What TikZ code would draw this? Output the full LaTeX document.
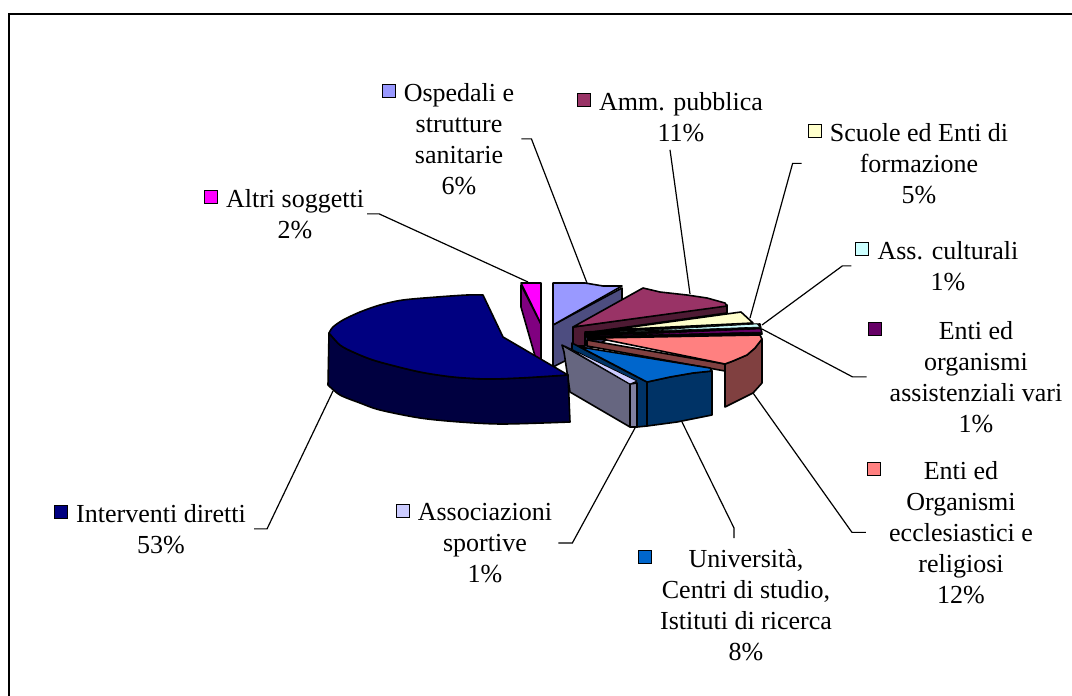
\documentclass[tikz,border=0pt]{standalone}
\usepackage{fontspec}
\setmainfont{Liberation Serif}
\usetikzlibrary{calc}
\definecolor{intcol}{HTML}{000080}
\definecolor{intside}{HTML}{000040}
\definecolor{altcol}{HTML}{FF00FF}
\definecolor{altside}{HTML}{800080}
\definecolor{ospcol}{HTML}{9999FF}
\definecolor{ospside}{HTML}{4D4D80}
\definecolor{ammcol}{HTML}{993366}
\definecolor{ammside}{HTML}{4D1A33}
\definecolor{scucol}{HTML}{FFFFCC}
\definecolor{culcol}{HTML}{CCFFFF}
\definecolor{enacol}{HTML}{660066}
\definecolor{enecol}{HTML}{FF8080}
\definecolor{eneside}{HTML}{804040}
\definecolor{unicol}{HTML}{0066CC}
\definecolor{uniside}{HTML}{003366}
\definecolor{aspcol}{HTML}{CCCCFF}
\definecolor{aspside}{HTML}{666680}
\definecolor{aspedge}{HTML}{8080A0}
\begin{document}
\begin{tikzpicture}[x=1pt, y=-1pt,
        face/.style={draw=black, line width=1.6pt, line join=round},
        lbl/.style={align=center, inner sep=0pt, anchor=north, font=\fontsize{26}{31}\selectfont},
        keybox/.style={draw=black, line width=1pt, minimum size=13pt, inner sep=0pt, anchor=east},
        leader/.style={draw=black, line width=1.2pt}]
        \useasboundingbox (0,0) rectangle (1072,696);
        \draw[line width=2pt] (9,696) -- (9,14) -- (1072,14);

        % slices, back to front
        \filldraw[face, fill=ospside] (553,325) -- (622,288) -- (622,332) -- (553,367) -- cycle;
        \filldraw[face, fill=ospcol] (553,283) -- (585,283) -- (603,286) -- (622,286) -- (553,325) -- cycle;
        \filldraw[face, fill=ammside] (573,327) -- (727,305) -- (727,313) -- (585,333) -- (585,346) -- (573,346) -- cycle;
        \filldraw[face, fill=ammcol] (573,327) -- (643,288) -- (660,292) -- (687,295) -- (707,298) -- (725,303) -- (727,306) -- cycle;
        \filldraw[face, fill=black] (585,332) -- (760,324) -- (762,334) -- (588,340) -- cycle;
        \filldraw[face, fill=scucol] (610,330) -- (741,312) -- (753,323) -- cycle;
        \filldraw[face, line width=0.6pt, fill=culcol] (620,332) -- (757,324) -- (760,327) -- cycle;
        \filldraw[face, line width=0.6pt, fill=enacol] (600,336) -- (760,329) -- (762,332) -- cycle;
        \filldraw[face, fill=eneside] (587,340) -- (725,364) -- (725,371) -- (587,346) -- cycle;
        \filldraw[face, fill=eneside] (725,364) -- (733,361) -- (747,355) -- (755,348) -- (762,339) -- (762,383) -- (753,393) -- (743,398) -- (725,407) -- cycle;
        \filldraw[face, fill=enecol] (597,338) -- (760,335) -- (762,339) -- (755,348) -- (747,355) -- (733,361) -- (725,364) -- cycle;
        \filldraw[face, fill=uniside] (572,343) -- (647,382) -- (647,426) -- (637,427) -- (637,384) -- (572,350) -- cycle;
        \filldraw[face, fill=uniside] (647,382) -- (670,377) -- (693,373) -- (712,371) -- (712,415) -- (677,422) -- (647,426) -- cycle;
        \filldraw[face, fill=unicol] (580,347) -- (710,368) -- (712,371) -- (693,373) -- (670,377) -- (647,382) -- cycle;
        \filldraw[face, fill=aspside] (562,345) -- (630,384) -- (630,427) -- (570,392) -- (564,352) -- cycle;
        \filldraw[face, fill=aspedge] (630,384) -- (637,383) -- (637,427) -- (630,427) -- cycle;
        \filldraw[face, line width=0.8pt, fill=aspcol] (565,346) -- (637,381) -- (630,384) -- cycle;
        \filldraw[face, fill=altside] (521,285) -- (541,324) -- (541,362) -- (535,356) -- (521,307) -- cycle;
        \filldraw[face, fill=altcol] (521,283) -- (541,283) -- (541,324) -- cycle;
        \filldraw[face, fill=intside] (329,333) -- plot[smooth] coordinates {(329,333) (340,345) (353,352) (370,359) (387,364) (420,372) (453,377) (487,379) (520,378) (553,376) (568,375)}
                -- (570,422) -- plot[smooth] coordinates {(570,422) (503,424) (460,422) (420,418) (380,410) (360,403) (340,395) (328,385)} -- cycle;
        \filldraw[face, fill=intcol] (568,375) -- (503,337) -- (483,295) -- plot[smooth] coordinates {(483,295) (467,295) (437,297) (403,300) (380,305) (360,312) (343,320) (333,327) (329,333)}
                -- plot[smooth] coordinates {(329,333) (340,345) (353,352) (370,359) (387,364) (420,372) (453,377) (487,379) (520,378) (553,376) (568,375)} -- cycle;

        % leader ends on the slices
        \coordinate (altt) at (528,282);
        \coordinate (ospt) at (587,283);
        \coordinate (ammt) at (690,294);
        \coordinate (scut) at (750,318);
        \coordinate (cult) at (762,325);
        \coordinate (enat) at (762,329);
        \coordinate (enet) at (753,393);
        \coordinate (unit) at (682,422);
        \coordinate (aspt) at (635,428);
        \coordinate (intt) at (333,391);

        % labels
        \node[lbl] (altl) at (295,189) {Altri soggetti\\2\%};
        \node[lbl] (ospl) at (459,83) {Ospedali e\\strutture\\sanitarie\\6\%};
        \node[lbl] (amml) at (681,92) {Amm. pubblica\\11\%};
        \node[lbl] (scul) at (919,123) {Scuole ed Enti di\\formazione\\5\%};
        \node[lbl] (cull) at (948,241) {Ass. culturali\\1\%};
        \node[lbl] (enal) at (976,321) {Enti ed\\organismi\\assistenziali vari\\1\%};
        \node[lbl] (enel) at (961,461) {Enti ed\\Organismi\\ecclesiastici e\\religiosi\\12\%};
        \node[lbl] (unil) at (746,549) {Università,\\Centri di studio,\\Istituti di ricerca\\8\%};
        \node[lbl] (aspl) at (485,503) {Associazioni\\sportive\\1\%};
        \node[lbl] (intl) at (161,504) {Interventi diretti\\53\%};

        \node[keybox, fill=altcol] (altk) at ([xshift=-8pt,yshift=-7.5pt]altl.north west) {};
        \node[keybox, fill=ospcol] (ospk) at ([xshift=-8pt,yshift=-7.5pt]ospl.north west) {};
        \node[keybox, fill=ammcol] (ammk) at ([xshift=-8pt,yshift=-7.5pt]amml.north west) {};
        \node[keybox, fill=scucol] (scuk) at ([xshift=-8pt,yshift=-7.5pt]scul.north west) {};
        \node[keybox, fill=culcol] (culk) at ([xshift=-8pt,yshift=-7.5pt]cull.north west) {};
        \node[keybox, fill=enacol] (enak) at ([xshift=-8pt,yshift=-7.5pt]enal.north west) {};
        \node[keybox, fill=enecol] (enek) at ([xshift=-8pt,yshift=-7.5pt]enel.north west) {};
        \node[keybox, fill=unicol] (unik) at ([xshift=-8pt,yshift=-7.5pt]unil.north west) {};
        \node[keybox, fill=aspcol] (aspk) at ([xshift=-8pt,yshift=-7.5pt]aspl.north west) {};
        \node[keybox, fill=intcol] (intk) at ([xshift=-8pt,yshift=-7.5pt]intl.north west) {};

        % leaders
        \draw[leader] ([xshift=3pt]altl.east) -- ++(12,0) -- (altt);
        \draw[leader] ([xshift=7pt]ospl.east) -- ++(10,0) -- (ospt);
        \draw[leader] ([xshift=-11pt,yshift=-8pt]amml.south) -- (ammt);
        \draw[leader] ($(scuk.west |- scul.west)+(-6,0)$) -- ++(-9,0) -- (scut);
        \draw[leader] ($(culk.west |- cull.west)+(-4,0)$) -- ++(-9,0) -- (cult);
        \draw[leader] ($(enak.west |- enal.west)+(-1,0)$) -- ++(-14,0) -- (enat);
        \draw[leader] ($(enek.west |- enel.west)+(-1,0)$) -- ++(-14,0) -- (enet);
        \draw[leader] ([xshift=-12pt,yshift=11pt]unil.north) -- ++(0,-10) -- (unit);
        \draw[leader] ([xshift=6pt]aspl.east) -- ++(14,0) -- (aspt);
        \draw[leader] ([xshift=8pt]intl.east) -- ++(13,0) -- (intt);
        \end{tikzpicture}
\end{document}
